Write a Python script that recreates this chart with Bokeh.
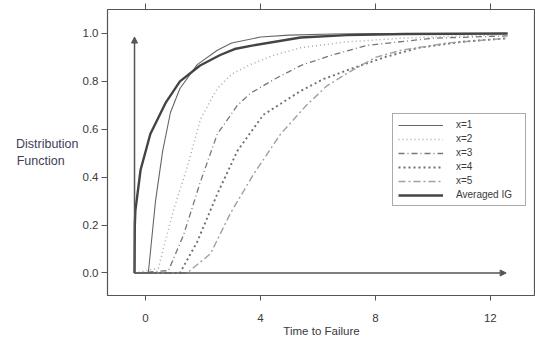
from bokeh.plotting import figure
from bokeh.models import Range1d, Arrow, NormalHead, Legend, LegendItem, FixedTicker, LinearAxis
from bokeh.embed import file_html
from bokeh.resources import INLINE

# data
t_avg = [-0.38, -0.37, -0.35, -0.17, 0.17, 0.7, 1.2, 1.9, 2.6, 3.1, 3.75, 5.4, 7.0, 9.0, 12.6]
f_avg = [0.0, 0.2, 0.26, 0.43, 0.58, 0.71, 0.80, 0.866, 0.91, 0.935, 0.95, 0.983, 0.993, 0.998, 1.0]

t_x1 = [-0.38, 0.1, 0.2, 0.35, 0.6, 0.87, 1.2, 1.8, 2.5, 3.0, 4.0, 5.0, 6.5, 8.0, 12.6]
f_x1 = [0.0, 0.0, 0.12, 0.30, 0.51, 0.67, 0.77, 0.87, 0.93, 0.96, 0.985, 0.993, 0.998, 1.0, 1.0]

t_x2 = [-0.38, 0.45, 0.97, 1.45, 1.91, 2.26, 2.5, 3.0, 3.65, 4.5, 5.4, 7.0, 8.9, 11.0, 12.6]
f_x2 = [0.0, 0.02, 0.26, 0.44, 0.64, 0.72, 0.77, 0.83, 0.87, 0.91, 0.94, 0.965, 0.98, 0.99, 0.995]

t_x3 = [-0.38, 0.8, 1.33, 1.91, 2.5, 3.2, 3.65, 4.5, 5.4, 6.5, 7.7, 10.0, 12.6]
f_x3 = [0.0, 0.01, 0.16, 0.38, 0.58, 0.70, 0.75, 0.81, 0.866, 0.91, 0.95, 0.98, 0.99]

t_x4 = [-0.38, 1.2, 1.8, 2.5, 3.2, 4.1, 5.4, 6.2, 7.1, 8.3, 9.5, 11.0, 12.6]
f_x4 = [0.0, 0.0, 0.13, 0.33, 0.51, 0.66, 0.76, 0.81, 0.85, 0.90, 0.94, 0.965, 0.98]

t_x5 = [-0.38, 1.45, 2.26, 2.96, 3.75, 4.7, 5.6, 6.3, 7.1, 8.0, 8.9, 10.5, 12.6]
f_x5 = [0.0, 0.0, 0.08, 0.25, 0.41, 0.58, 0.70, 0.78, 0.84, 0.90, 0.93, 0.96, 0.98]

x_ticks = [0, 4, 8, 12]
y_ticks = [0.0, 0.2, 0.4, 0.6, 0.8, 1.0]
y_tick_labels = {0.0: "0.0", 0.2: "0.2", 0.4: "0.4", 0.6: "0.6", 0.8: "0.8", 1.0: "1.0"}
legend_labels = ["x=1", "x=2", "x=3", "x=4", "x=5", "Averaged IG"]

FONT = "Liberation Sans"
TXT = "#3a3a3a"

p = figure(width=535, height=342, output_backend="svg", toolbar_location=None,
           x_range=Range1d(-1.32, 13.57), y_range=Range1d(-0.094, 1.10),
           min_border_left=107, min_border_right=0, min_border_top=9, min_border_bottom=47)
p.grid.visible = False
p.outline_line_color = "#555555"
p.outline_line_width = 1.2
p.background_fill_color = "white"
p.border_fill_color = "white"

top_axis = LinearAxis(ticker=FixedTicker(ticks=x_ticks), major_label_text_font_size="0px",
                      major_label_text_color=None,
                      major_label_standoff=0, major_tick_out=6, major_tick_in=0,
                      axis_line_color=None, minor_tick_line_color=None,
                      major_tick_line_color="#555555")
p.add_layout(top_axis, "above")

p.xaxis.ticker = FixedTicker(ticks=x_ticks)
p.yaxis.ticker = FixedTicker(ticks=y_ticks)
p.yaxis.major_label_overrides = y_tick_labels
for ax in (p.below[0], p.yaxis[0]):
    ax.axis_line_color = None
    ax.minor_tick_line_color = None
    ax.major_tick_in = 0
    ax.major_tick_line_color = "#555555"
    ax.major_label_text_font = FONT
    ax.major_label_text_font_size = "11.5px"
    ax.major_label_text_color = TXT
bx = p.below[0]
bx.major_tick_out = 5
bx.major_label_standoff = 13
bx.axis_label = "Time to Failure"
bx.axis_label_text_font = FONT
bx.axis_label_text_font_size = "11.5px"
bx.axis_label_text_font_style = "normal"
bx.axis_label_text_color = TXT
bx.axis_label_standoff = 0

ly = p.yaxis[0]
ly.major_tick_out = 6
ly.major_label_standoff = 3
ly.axis_label = "Distribution\nFunction\u00a0\u00a0\u00a0\u00a0"
ly.axis_label_orientation = "horizontal"
ly.axis_label_text_font = FONT
ly.axis_label_text_font_size = "12.5px"
ly.axis_label_text_font_style = "normal"
ly.axis_label_text_color = "#404058"
ly.axis_label_standoff = 1

# arrows for the inner axes
p.add_layout(Arrow(end=NormalHead(size=6, fill_color="#555555", line_color="#555555"),
                   x_start=-0.38, y_start=0.0, x_end=-0.38, y_end=0.985,
                   line_color="#555555", line_width=1.5))
p.add_layout(Arrow(end=NormalHead(size=6, fill_color="#555555", line_color="#555555"),
                   x_start=-0.38, y_start=0.0, x_end=12.55, y_end=0.0,
                   line_color="#555555", line_width=1.5))

r1 = p.line(t_x1, f_x1, line_color="#666666", line_width=1.1)
r2 = p.line(t_x2, f_x2, line_color="#a8a8a8", line_width=1.5, line_dash="1 3")
r3 = p.line(t_x3, f_x3, line_color="#777777", line_width=1.3, line_dash="6 3 1 3")
r4 = p.line(t_x4, f_x4, line_color="#707070", line_width=1.9, line_dash="2 3")
r5 = p.line(t_x5, f_x5, line_color="#a0a0a0", line_width=1.4, line_dash="7 3 2 3")
r6 = p.line(t_avg, f_avg, line_color="#444444", line_width=2.4)

legend = Legend(items=[LegendItem(label=l, renderers=[r]) for l, r in
                       zip(legend_labels, [r1, r2, r3, r4, r5, r6])],
                location=(285, 89), orientation="vertical",
                glyph_width=45, glyph_height=10, label_height=10, label_width=64, spacing=3,
                padding=5, margin=0, label_standoff=13,
                label_text_font=FONT, label_text_font_size="10px", label_text_color=TXT,
                border_line_color="#555555", border_line_width=1,
                background_fill_color="white", background_fill_alpha=1.0)
p.add_layout(legend, "center")

open("out.html", "w").write(file_html(p, INLINE))
